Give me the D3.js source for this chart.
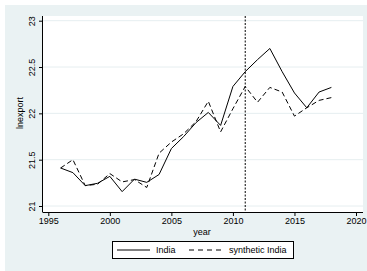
<!DOCTYPE html>
<html>
<head>
<meta charset="utf-8" />
<script src="https://d3js.org/d3.v7.min.js"></script>
<style>
  body { margin: 0; background: #fff; }
  text { font-family: "Liberation Sans", Arial, sans-serif; font-size: 9px; fill: #000; }
</style>
</head>
<body>
<svg width="367" height="271"></svg>
<script>
var years = [1996, 1997, 1998, 1999, 2000, 2001, 2002, 2003, 2004, 2005, 2006, 2007,
             2008, 2009, 2010, 2011, 2012, 2013, 2014, 2015, 2016, 2017, 2018];
var india = [21.41, 21.36, 21.22, 21.245, 21.32, 21.155, 21.29, 21.255, 21.34, 21.62, 21.75, 21.90,
             22.01, 21.87, 22.29, 22.45, 22.58, 22.70, 22.45, 22.22, 22.06, 22.23, 22.28];
var synthetic = [21.41, 21.50, 21.22, 21.235, 21.35, 21.26, 21.285, 21.20, 21.57, 21.69, 21.78, 21.91,
                 22.13, 21.80, 22.05, 22.29, 22.12, 22.28, 22.23, 21.97, 22.06, 22.14, 22.17];
var xTicks = [1995, 2000, 2005, 2010, 2015, 2020];
var yTicks = [21, 21.5, 22, 22.5, 23];
var treatYear = 2011;

var svg = d3.select("svg");

// graph region
svg.append("rect").attr("x", 5).attr("y", 5).attr("width", 362).attr("height", 266)
    .attr("fill", "#eaf2f3");
// plot region
svg.append("rect").attr("x", 43).attr("y", 16).attr("width", 320).attr("height", 196)
    .attr("fill", "#fff");

var x = d3.scaleLinear().domain([1995, 2020]).range([48.3, 356]);
var y = d3.scaleLinear().domain([21, 23]).range([206, 20.7]);

// gridlines
svg.append("g").selectAll("line").data(yTicks).enter().append("line")
    .attr("x1", 43).attr("x2", 363)
    .attr("y1", function (d) { return y(d); })
    .attr("y2", function (d) { return y(d); })
    .attr("stroke", "#e6eef0").attr("stroke-width", 1);

// axes
var xAxis = svg.append("g").attr("transform", "translate(0,212)")
    .call(d3.axisBottom(x).tickValues(xTicks).tickFormat(d3.format("d")).tickSize(4).tickPadding(2));
xAxis.select(".domain").attr("d", "M42.5,0.5H363");
var yAxis = svg.append("g").attr("transform", "translate(43,0)")
    .call(d3.axisLeft(y).tickValues(yTicks).tickFormat(function (d) { return d; }).tickSize(4).tickPadding(2));
yAxis.select(".domain").attr("d", "M-0.5,16V212");
yAxis.selectAll(".tick text")
    .attr("transform", "rotate(-90)")
    .attr("text-anchor", "middle")
    .attr("x", 0).attr("dy", 0).attr("y", -8);
svg.selectAll(".tick text").style("font-family", "'Liberation Sans', Arial, sans-serif").style("font-size", "9px");
svg.selectAll(".domain, .tick line").attr("stroke", "#000");

// axis titles
svg.append("text").attr("x", 202).attr("y", 235).attr("text-anchor", "middle").text("year");
svg.append("text").attr("transform", "translate(23,113) rotate(-90)")
    .attr("text-anchor", "middle").text("lnexport");

// treatment line
svg.append("line")
    .attr("x1", x(treatYear)).attr("x2", x(treatYear))
    .attr("y1", 16).attr("y2", 212)
    .attr("stroke", "#000").attr("stroke-width", 1).attr("stroke-dasharray", "2,1.5");

var line = d3.line()
    .x(function (d, i) { return x(years[i]); })
    .y(function (d) { return y(d); });

svg.append("path").datum(india).attr("d", line)
    .attr("fill", "none").attr("stroke", "#000").attr("stroke-width", 1);
svg.append("path").datum(synthetic).attr("d", line)
    .attr("fill", "none").attr("stroke", "#000").attr("stroke-width", 1)
    .attr("stroke-dasharray", "5,3");

// legend
var lg = svg.append("g");
lg.append("rect").attr("x", 112.5).attr("y", 241.5).attr("width", 181).attr("height", 17)
    .attr("fill", "#fff").attr("stroke", "#000");
lg.append("line").attr("x1", 117).attr("x2", 150).attr("y1", 250).attr("y2", 250)
    .attr("stroke", "#000");
lg.append("text").attr("x", 156).attr("y", 253).text("India");
lg.append("line").attr("x1", 189).attr("x2", 224).attr("y1", 250).attr("y2", 250)
    .attr("stroke", "#000").attr("stroke-dasharray", "5,4");
lg.append("text").attr("x", 229).attr("y", 253).text("synthetic India");
</script>
</body>
</html>
